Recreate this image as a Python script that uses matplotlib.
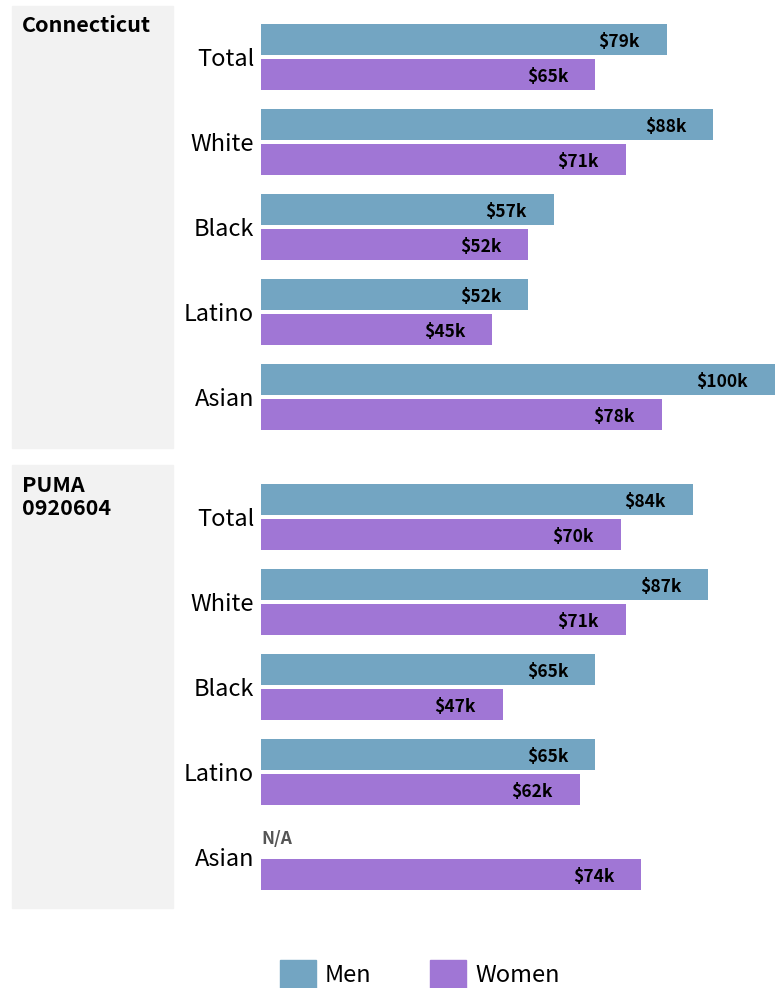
import matplotlib.pyplot as plt
from matplotlib.patches import Rectangle
import numpy as np

plt.rcParams['font.family'] = ['Noto Sans CJK SC', 'DejaVu Sans']

# 数据
regions = ["Connecticut", "PUMA\n0920604"]
groups = ["Total", "White", "Black", "Latino", "Asian"]
men = [[79, 88, 57, 52, 100],
       [84, 87, 65, 65, None]]
women = [[65, 71, 52, 45, 78],
         [70, 71, 47, 62, 74]]

men_color = "#73a5c2"
women_color = "#a076d5"
box_color = "#f2f2f2"

W, H = 781, 988
fig = plt.figure(figsize=(W / 100, H / 100), dpi=100)


def fx(px):
    return px / W


def fy(py):
    return 1 - py / H


# 每个区域：灰色框 + 条形图
panel_top = [14.5, 474.5]
box_top = [6, 465]
box_bottom = [448, 908]
step = 85
for p in range(2):
    fig.patches.append(Rectangle((fx(12), fy(box_bottom[p])), fx(173) - fx(12),
                                 fy(box_top[p]) - fy(box_bottom[p]),
                                 transform=fig.transFigure, color=box_color, zorder=0))
    fig.text(fx(22), fy(box_top[p] + 9.5), regions[p], ha="left", va="top",
             fontsize=15.5, fontweight="bold", linespacing=1.15)

    top = panel_top[p]
    bottom = top + step * len(groups)
    ax = fig.add_axes([fx(261), fy(bottom), fx(775) - fx(261), fy(top) - fy(bottom)])
    ax.set_xlim(0, 100)
    ax.set_ylim(len(groups) - 0.5, -0.5)
    y = np.arange(len(groups))
    off = 0.206
    hgt = 0.365
    for i in range(len(groups)):
        m = men[p][i]
        w = women[p][i]
        if m is not None:
            ax.barh(y[i] - off, m, height=hgt, color=men_color)
            ax.annotate("${}k".format(m), (m, y[i] - off), xytext=(-19.5, -1.5),
                        textcoords="offset points", ha="right", va="center",
                        fontsize=12.5, fontweight="bold")
        else:
            ax.text(0, y[i] - off, "N/A", ha="left", va="center",
                    fontsize=12.5, fontweight="bold", color="#555555")
        ax.barh(y[i] + off, w, height=hgt, color=women_color)
        ax.annotate("${}k".format(w), (w, y[i] + off), xytext=(-19.5, -1.5),
                    textcoords="offset points", ha="right", va="center",
                    fontsize=12.5, fontweight="bold")
    ax.set_yticks(y)
    ax.set_yticklabels(groups, fontsize=17)
    ax.tick_params(axis="y", length=0, pad=5)
    ax.set_xticks([])
    for s in ax.spines.values():
        s.set_visible(False)
    ax.patch.set_alpha(0)

# 图例
for x0, label, c in [(280, "Men", men_color), (430, "Women", women_color)]:
    fig.patches.append(Rectangle((fx(x0), fy(996)), fx(36), fy(960) - fy(996),
                                 transform=fig.transFigure, color=c))
    fig.text(fx(x0 + 45), fy(975), label, ha="left", va="center", fontsize=17)

plt.savefig("out.png", dpi=100)
